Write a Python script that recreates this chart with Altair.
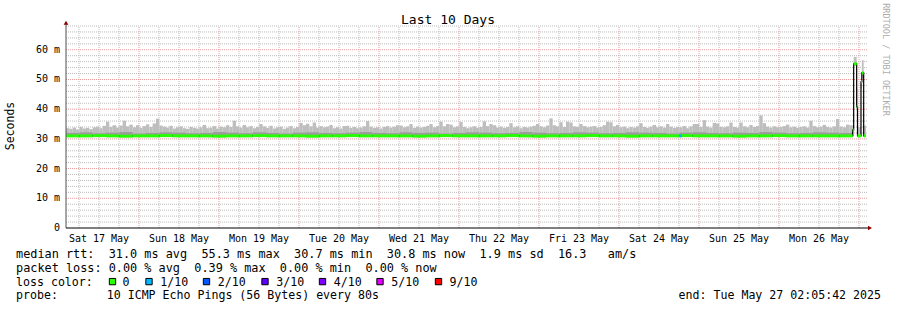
import altair as alt
import pandas as pd

MONO = "DejaVu Sans Mono"

# ---------------- data ----------------
start_time = "2025-05-17 02:05:42"
end_time = "2025-05-27 02:05:42"
title_text = "Last 10 Days"
y_title = "Seconds"
watermark = "RRDTOOL / TOBI OETIKER"

day_dates = ["2025-05-17", "2025-05-18", "2025-05-19", "2025-05-20", "2025-05-21",
             "2025-05-22", "2025-05-23", "2025-05-24", "2025-05-25", "2025-05-26"]
day_labels = ["Sat 17 May", "Sun 18 May", "Mon 19 May", "Tue 20 May", "Wed 21 May",
              "Thu 22 May", "Fri 23 May", "Sat 24 May", "Sun 25 May", "Mon 26 May"]

y_label_values = [0, 10, 20, 30, 40, 50, 60]
y_label_texts = ["0  ", "10 m", "20 m", "30 m", "40 m", "50 m", "60 m"]

# hourly upper edge of the smoke (ms), first 236 hours
smoke_max_hourly = [
    33.6, 33.4, 33.8, 33.2, 34.0, 33.5, 33.7, 33.3, 33.9, 34.1,
    33.6, 34.4, 35.8, 34.0, 34.6, 33.8, 34.5, 36.1, 34.2, 34.8,
    33.9, 34.6, 33.7, 34.3, 34.9, 34.0, 35.2, 36.8, 34.5, 34.1,
    33.8, 34.4, 33.5, 33.9, 34.2, 33.6, 33.4, 34.0, 33.7, 33.5,
    33.9, 34.7, 33.6, 33.8, 34.3, 33.5, 34.1, 33.9, 34.6, 34.0,
    36.1, 34.2, 33.8, 34.7, 33.9, 34.3, 33.6, 34.0, 35.0, 34.2,
    33.7, 34.4, 33.5, 33.9, 34.1, 33.4, 33.8, 34.3, 33.6, 34.0,
    35.4, 34.6, 35.1, 34.2, 35.5, 33.8, 34.3, 33.9, 34.1, 34.7,
    33.6, 33.9, 33.5, 34.3, 34.4, 33.7, 34.0, 33.6, 33.8, 34.2,
    36.0, 34.1, 33.7, 33.9, 33.5, 34.0, 34.3, 33.8, 34.1, 34.6,
    34.5, 33.9, 34.2, 35.0, 33.7, 34.1, 33.8, 34.0, 34.4, 35.0,
    33.9, 34.3, 35.8, 34.2, 35.0, 34.8, 33.9, 34.2, 35.7, 34.0,
    33.6, 33.9, 34.2, 33.7, 34.0, 35.9, 34.3, 35.0, 34.6, 33.8,
    34.1, 33.7, 34.0, 35.3, 33.9, 34.2, 33.6, 34.0, 33.8, 34.1,
    34.4, 35.0, 34.2, 33.9, 34.5, 36.9, 34.6, 34.2, 35.6, 34.0,
    35.8, 35.5, 34.2, 34.0, 35.0, 34.3, 33.9, 34.1, 34.3, 33.8,
    34.0, 34.6, 35.8, 35.6, 34.2, 34.7, 33.9, 34.1, 33.6, 34.0,
    33.8, 34.2, 35.3, 34.0, 33.7, 34.1, 34.7, 33.9, 34.2, 33.8,
    35.0, 34.1, 33.7, 34.0, 33.9, 34.3, 33.6, 34.2, 35.0, 35.0,
    34.0, 36.3, 34.1, 33.8, 35.4, 35.2, 34.0, 33.9, 34.2, 35.5,
    34.0, 33.8, 35.5, 34.2, 33.9, 34.7, 34.0, 34.3, 37.9, 35.3,
    34.1, 33.8, 34.2, 33.9, 34.0, 34.3, 34.8, 33.9, 34.1, 33.7,
    34.0, 34.2, 33.8, 36.1, 34.3, 33.9, 34.1, 34.7, 34.0, 33.8,
    34.2, 36.7, 34.1, 33.9, 34.8, 34.6,
]
smoke_floor = 30.7

# 4-hourly top of the dense (darker) smoke band and median rtt (ms)
dark_top_4h = [
    32.0, 32.2, 31.9, 32.1, 32.3, 31.8, 32.0, 32.2, 32.1, 31.9,
    32.0, 32.3, 32.1, 31.9, 32.2, 32.0, 31.8, 32.1, 32.2, 32.0,
    31.9, 32.1, 32.3, 32.0, 31.9, 32.2, 32.0, 32.1, 31.8, 32.0,
    32.2, 32.1, 31.9, 32.0, 32.3, 32.1, 31.9, 32.0, 32.2, 32.1,
    31.9, 32.0, 32.2, 32.1, 32.0, 31.8, 32.1, 32.2, 32.0, 31.9,
    32.1, 32.0, 32.3, 32.1, 31.9, 32.0, 32.2, 32.1, 32.0,
]
median_4h = [
    31.0, 31.0, 31.1, 31.0, 30.9, 31.0, 31.0, 31.1, 31.0, 31.0,
    31.0, 30.9, 31.0, 31.0, 31.1, 31.0, 31.0, 31.0, 30.9, 31.0,
    31.0, 31.1, 31.0, 31.0, 31.0, 31.0, 30.9, 31.0, 31.1, 31.0,
    31.0, 31.0, 31.0, 31.1, 31.0, 30.9, 31.0, 31.0, 31.0, 31.1,
    31.0, 31.0, 30.9, 31.0, 31.0, 31.0, 31.1, 31.0, 31.0, 31.0,
    30.9, 31.0, 31.0, 31.1, 31.0, 31.0, 31.0, 31.0, 31.0,
]

# final hours (latency spikes)
tail_start = ["2025-05-26 22:05:42", "2025-05-26 22:23:42", "2025-05-26 23:17:42",
              "2025-05-26 23:32:42", "2025-05-27 00:35:42", "2025-05-27 00:50:42",
              "2025-05-27 01:23:42"]
tail_end = ["2025-05-26 22:23:42", "2025-05-26 23:17:42", "2025-05-26 23:32:42",
            "2025-05-27 00:35:42", "2025-05-27 00:50:42", "2025-05-27 01:23:42",
            "2025-05-27 02:05:42"]
tail_median = [33.0, 55.3, 40.8, 31.0, 49.2, 52.2, 31.0]
tail_smoke_lo = [31.0, 54.5, 39.5, 30.7, 47.0, 50.5, 30.7]
tail_smoke_hi = [34.5, 57.6, 47.0, 34.0, 50.5, 56.5, 34.5]

# one sample with 1/10 loss
loss_event_start = "2025-05-24 18:17:00"
loss_event_end = "2025-05-24 18:53:00"
loss_event_value = 31.0

rtt_line = "median rtt:  31.0 ms avg  55.3 ms max  30.7 ms min  30.8 ms now  1.9 ms sd  16.3   am/s"
loss_line = "packet loss: 0.00 % avg  0.39 % max  0.00 % min  0.00 % now"
color_caption = "loss color:"
loss_labels = ["0", "1/10", "2/10", "3/10", "4/10", "5/10", "9/10"]
loss_colors = ["#26ff00", "#00b8ff", "#0059ff", "#5e00ff", "#7e00ff", "#dd00ff", "#ff0000"]
probe_line = "probe:       10 ICMP Echo Pings (56 Bytes) every 80s"
end_line = "end: Tue May 27 02:05:42 2025"

# ---------------- helpers ----------------
T0 = pd.Timestamp(start_time)
T1 = pd.Timestamp(end_time)
H = pd.Timedelta(hours=1)


def hrs(ts):
    return (pd.Timestamp(ts) - T0) / H


def keep_spaces(s):
    # SVG collapses runs of spaces; non-breaking spaces keep the monospace layout
    return s.replace(" ", "\u00a0")


TOTAL = hrs(T1)
W, HT = 800, 202
YMAX = 68
X = alt.Scale(domain=[0, TOTAL], nice=False, zero=False)
Y = alt.Scale(domain=[0, YMAX], nice=False, zero=False)

GREEN = loss_colors[0]
SMOKE_LIGHT = "#bebebe"
SMOKE_DARK = "#9c9c9c"
MINOR = "#bcbcbc"
MAJOR = "#e89a9a"
ARROW = "#8b0000"


def xq(f):
    return alt.X(f"{f}:Q", scale=X, axis=None)


def yq(f):
    return alt.Y(f"{f}:Q", scale=Y, axis=None)


# grid
minor_y = [v for v in range(2, YMAX + 1, 2) if v % 10 != 0]
major_y = [v for v in range(10, 61, 10)]
hgrid_minor = pd.DataFrame({"y": minor_y, "x0": 0.0, "x1": TOTAL + 0.6})
hgrid_major = pd.DataFrame({"y": major_y, "x0": 0.0, "x1": TOTAL + 0.6})

six_hours = pd.date_range(pd.Timestamp(day_dates[0]) + pd.Timedelta(hours=6), T1, freq="6h")
vmin = [hrs(t) for t in six_hours if t.hour != 0]
vmaj = [hrs(t) for t in six_hours if t.hour == 0]
vgrid_minor = pd.DataFrame({"x": vmin, "y0": 0.0, "y1": YMAX})
vgrid_major = pd.DataFrame({"x": vmaj, "y0": 0.0, "y1": YMAX})

# smoke
n_main = len(smoke_max_hourly)
smoke_df = pd.DataFrame({
    "x": [float(i) for i in range(n_main)] + [hrs(t) for t in tail_start],
    "x2": [float(i + 1) for i in range(n_main)] + [hrs(t) for t in tail_end],
    "lo": [smoke_floor] * n_main + tail_smoke_lo,
    "hi": smoke_max_hourly + tail_smoke_hi,
})
dark_df = pd.DataFrame({
    "x": [4.0 * i for i in range(len(dark_top_4h))],
    "x2": [4.0 * i + 4 for i in range(len(dark_top_4h))],
    "lo": smoke_floor,
    "hi": dark_top_4h,
})

# median
med_x = [4.0 * i for i in range(len(median_4h))] + [hrs(t) for t in tail_start]
med_x2 = [4.0 * i + 4 for i in range(len(median_4h))] + [hrs(t) for t in tail_end]
med_v = median_4h + tail_median
median_seg = pd.DataFrame({"x": med_x, "x2": med_x2, "y": med_v})
median_line = pd.DataFrame({"x": med_x + [TOTAL], "y": med_v + [med_v[-1]]})
loss_seg = pd.DataFrame({"x": [hrs(loss_event_start)], "x2": [hrs(loss_event_end)],
                         "y": [loss_event_value]})

layers = []
layers.append(alt.Chart(hgrid_minor).mark_rule(color=MINOR, strokeWidth=1, strokeDash=[1, 1])
              .encode(x=xq("x0"), x2="x1:Q", y=yq("y")))
layers.append(alt.Chart(vgrid_minor).mark_rule(color=MINOR, strokeWidth=1, strokeDash=[1, 1])
              .encode(x=xq("x"), y=yq("y0"), y2="y1:Q"))
layers.append(alt.Chart(hgrid_major).mark_rule(color=MAJOR, strokeWidth=1, strokeDash=[1, 1])
              .encode(x=xq("x0"), x2="x1:Q", y=yq("y")))
layers.append(alt.Chart(vgrid_major).mark_rule(color=MAJOR, strokeWidth=1, strokeDash=[1, 1])
              .encode(x=xq("x"), y=yq("y0"), y2="y1:Q"))
layers.append(alt.Chart(smoke_df).mark_rect(color=SMOKE_LIGHT)
              .encode(x=xq("x"), x2="x2:Q", y=yq("lo"), y2="hi:Q"))
layers.append(alt.Chart(dark_df).mark_rect(color=SMOKE_DARK)
              .encode(x=xq("x"), x2="x2:Q", y=yq("lo"), y2="hi:Q"))
layers.append(alt.Chart(median_line).mark_line(interpolate="step-after", color="#000000", strokeWidth=1.2)
              .encode(x=xq("x"), y=yq("y")))
layers.append(alt.Chart(median_seg).mark_rule(color=GREEN, strokeWidth=3)
              .encode(x=xq("x"), x2="x2:Q", y=yq("y")))
layers.append(alt.Chart(loss_seg).mark_rule(color=loss_colors[1], strokeWidth=3)
              .encode(x=xq("x"), x2="x2:Q", y=yq("y")))

# axes lines and arrows
layers.append(alt.Chart(pd.DataFrame({"x": [0.0], "y0": [0.0], "y1": [68.9]}))
              .mark_rule(color="#505050", strokeWidth=1)
              .encode(x=xq("x"), y=yq("y0"), y2="y1:Q"))
layers.append(alt.Chart(pd.DataFrame({"x0": [0.0], "x1": [TOTAL + 1.0], "y": [0.0]}))
              .mark_rule(color="#000000", strokeWidth=1)
              .encode(x=xq("x0"), x2="x1:Q", y=yq("y")))
layers.append(alt.Chart(pd.DataFrame({"x": [0.0], "y": [69.1]}))
              .mark_point(shape="triangle-up", filled=True, size=22, color=ARROW, opacity=1)
              .encode(x=xq("x"), y=yq("y")))
layers.append(alt.Chart(pd.DataFrame({"x": [TOTAL + 1.2], "y": [0.0]}))
              .mark_point(shape="triangle-right", filled=True, size=22, color=ARROW, opacity=1)
              .encode(x=xq("x"), y=yq("y")))

# tick labels
ylab = pd.DataFrame({"v": y_label_values, "t": [keep_spaces(t) for t in y_label_texts]})
layers.append(alt.Chart(ylab).mark_text(font=MONO, fontSize=10, align="right", baseline="middle", color="#000000")
              .encode(y=yq("v"), x=alt.value(-6), text="t:N"))
noon = [hrs(pd.Timestamp(d) + pd.Timedelta(hours=12)) for d in day_dates]
xlab = pd.DataFrame({"x": noon, "t": day_labels})
layers.append(alt.Chart(xlab).mark_text(font=MONO, fontSize=10, align="center", baseline="alphabetic", color="#000000")
              .encode(x=xq("x"), y=alt.value(HT + 13.5), text="t:N"))


def label(text, x, y, **kw):
    return (alt.Chart(pd.DataFrame({"t": [keep_spaces(text)]}))
            .mark_text(font=MONO, color=kw.pop("color", "#000000"), **kw)
            .encode(x=alt.value(x), y=alt.value(y), text="t:N"))


LX = 16 - 66
layers.append(label(title_text, 382, -6, fontSize=13, align="center", baseline="middle"))
layers.append(label(y_title, -55, 100, fontSize=11.5, align="center", baseline="middle", angle=270))
layers.append(label(watermark, 820, 33.5, fontSize=8.5, align="center", baseline="middle", angle=90,
                    color="#adadad"))
layers.append(label(rtt_line, LX, 232.3, fontSize=11.85, align="left", baseline="alphabetic"))
layers.append(label(loss_line, LX, 246.0, fontSize=11.85, align="left", baseline="alphabetic"))
layers.append(label(color_caption, LX, 259.7, fontSize=11.6, align="left", baseline="alphabetic"))
layers.append(label(probe_line, LX, 273.3, fontSize=11.6, align="left", baseline="alphabetic"))
layers.append(label(end_line, 815, 273.3, fontSize=11.6, align="right", baseline="alphabetic"))

box_px = [46.5, 83.0, 140.5, 199.0, 256.5, 314.0, 372.5]
lab_px = [56.5, 94.2, 151.8, 210.2, 267.8, 325.2, 383.5]
legend_df = pd.DataFrame({"bx": box_px, "lx": lab_px, "t": loss_labels, "c": loss_colors})
layers.append(alt.Chart(legend_df).mark_square(size=40, filled=True, opacity=1, stroke="#000000", strokeWidth=1)
              .encode(x=alt.X("bx:Q", scale=None), y=alt.value(255.6), color=alt.Color("c:N", scale=None)))
layers.append(alt.Chart(legend_df).mark_text(font=MONO, fontSize=11.6, align="left", baseline="alphabetic", color="#000000")
              .encode(x=alt.X("lx:Q", scale=None), y=alt.value(259.7), text="t:N"))

chart = (alt.layer(*layers)
         .properties(width=W, height=HT,
                     padding={"left": 66, "top": 26, "right": 31, "bottom": 82},
                     autosize=alt.AutoSizeParams(type="none"),
                     background="white")
         .configure_view(strokeWidth=0))

chart.save("out.html", embed_options={"renderer": "svg", "actions": False})
